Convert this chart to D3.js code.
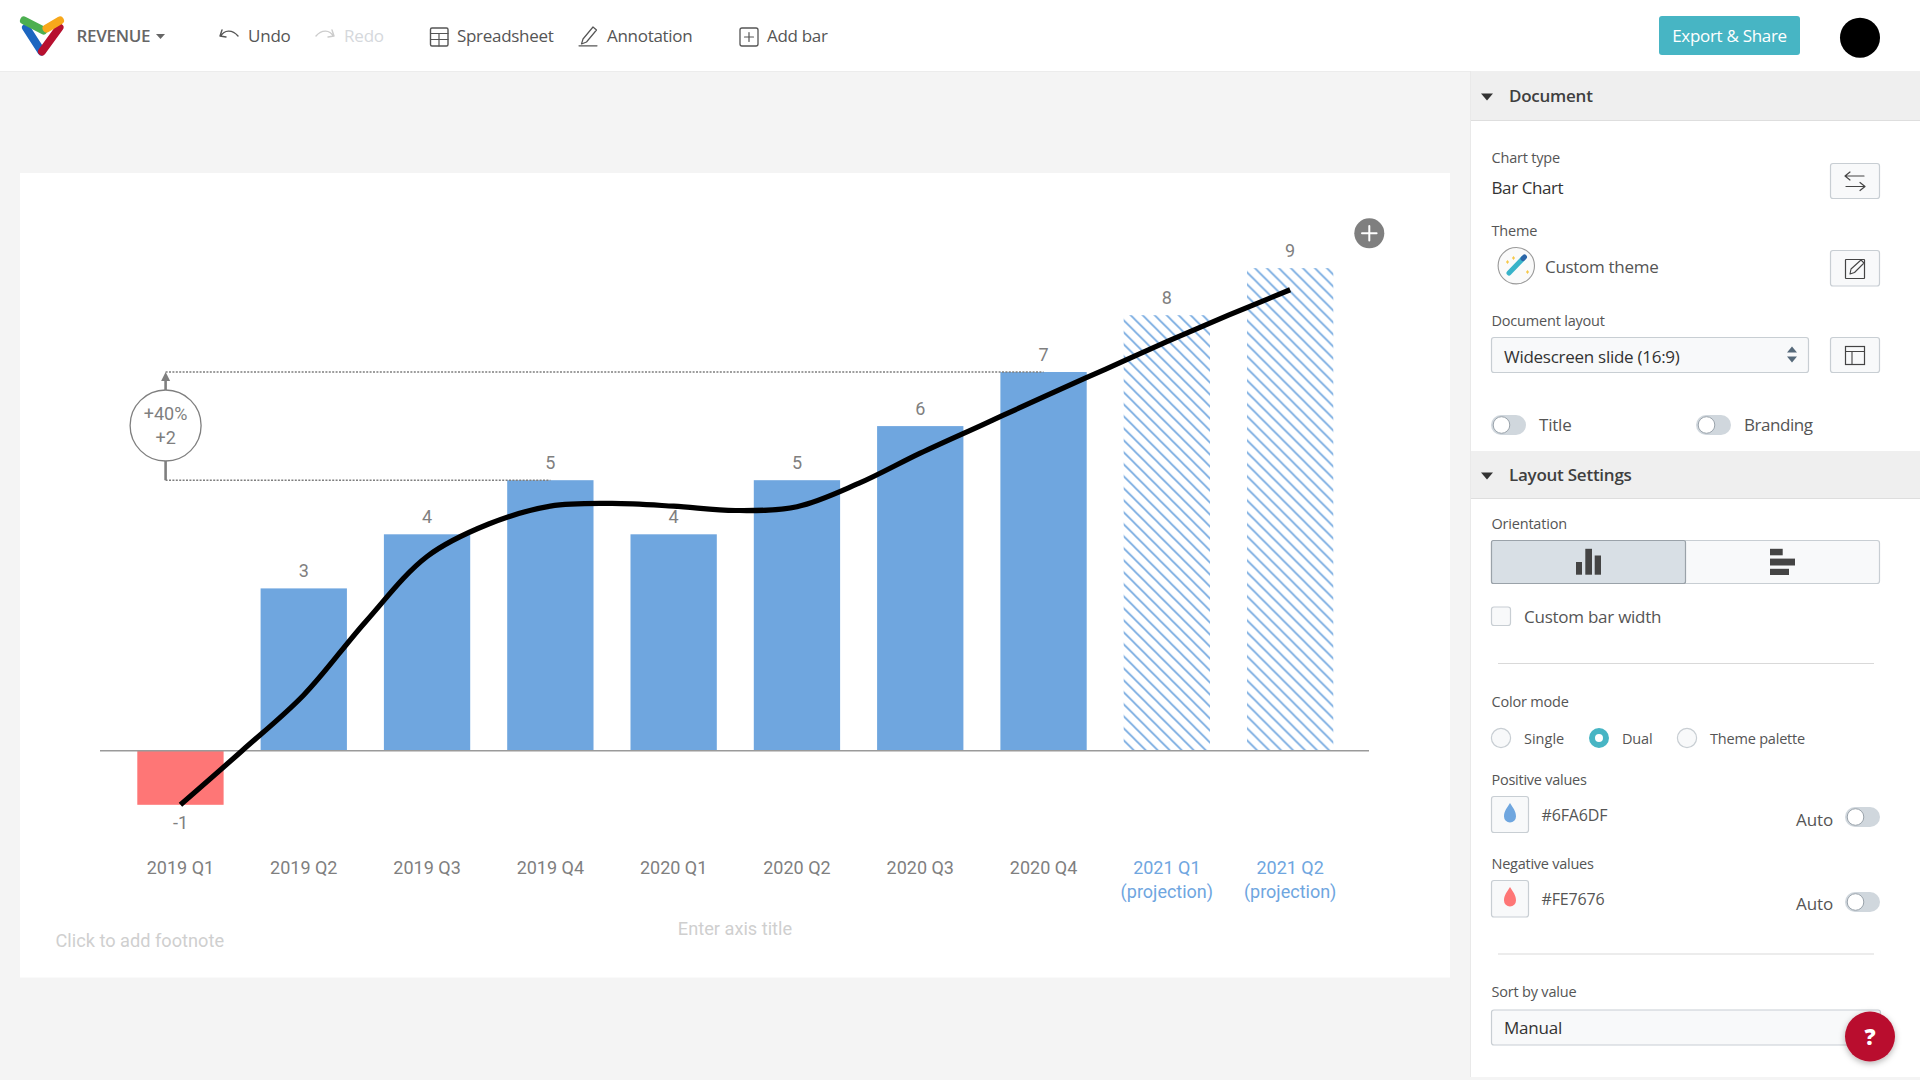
<!DOCTYPE html>
<html><head><meta charset="utf-8"><title>Revenue</title>
<script src="https://cdn.jsdelivr.net/npm/d3@7"></script>
<style>html,body{margin:0;padding:0;background:#f4f4f4;overflow:hidden}svg{display:block}</style>
</head><body><div id="root"></div>
<script>
// ---- chart data ----
const categories = ["2019 Q1","2019 Q2","2019 Q3","2019 Q4","2020 Q1","2020 Q2","2020 Q3","2020 Q4","2021 Q1","2021 Q2"];
const barValues  = [-1,3,4,5,4,5,6,7,8.05,8.92];
const barLabels  = ["-1","3","4","5","4","5","6","7","8","9"];
const projected  = [false,false,false,false,false,false,false,false,true,true];
// trend line at each bar centre and half-way between bars
const trendPositions = [0,.5,1,1.5,2,2.5,3,3.5,4,4.5,5,5.5,6,6.5,7,7.5,8,8.5,9];
const trendValues    = [-1,0,1.03,2.38,3.59,4.19,4.52,4.57,4.52,4.44,4.51,4.94,5.5,6.02,6.54,7.05,7.56,8.05,8.52];
const growthFrom = "2019 Q4", growthTo = "2020 Q4";
const growthFromValue = 5, growthToValue = 7;
const growthLabels = ["+40%","+2"];
const POS="#6FA6DF", NEG="#FE7676", GREY="#7f7f7f";
const UI='"Open Sans",sans-serif', CH='Roboto,sans-serif', FS=18;

const svg=d3.select("#root").append("svg").attr("width",1920).attr("height",1080).attr("viewBox","0 0 1920 1080");
const defs=svg.append("defs");
const shadow=defs.append("filter").attr("id","sh").attr("x","-30%").attr("y","-30%").attr("width","160%").attr("height","160%");
shadow.append("feDropShadow").attr("dx",0).attr("dy",2).attr("stdDeviation",3).attr("flood-color","#000").attr("flood-opacity",.3);

function rect(x,y,w,h,fill,opt={}){return svg.append("rect").attr("x",x).attr("y",y).attr("width",w).attr("height",h).attr("fill",fill).attr("rx",opt.r||0).attr("stroke",opt.s||"none").attr("stroke-width",opt.sw||1);}
function txt(x,y,s,size,color,opt={}){return svg.append("text").attr("x",x).attr("y",y).attr("dy",".35em").attr("font-family",opt.f||UI).attr("font-size",size).attr("font-weight",opt.w||400).attr("fill",color).attr("text-anchor",opt.a||"start").attr("letter-spacing",opt.ls||null).text(s);}
function path(d,stroke,sw,fill,parent){return (parent||svg).append("path").attr("d",d).attr("fill",fill||"none").attr("stroke",stroke||"none").attr("stroke-width",sw||1).attr("stroke-linecap","round").attr("stroke-linejoin","round");}
function circ(x,y,r,fill,stroke,sw){return svg.append("circle").attr("cx",x).attr("cy",y).attr("r",r).attr("fill",fill).attr("stroke",stroke||"none").attr("stroke-width",sw||1);}

// ---- page frame ----
rect(0,0,1920,1080,"#f4f4f4");
rect(0,0,1920,71.5,"#fff");
rect(0,71,1470,1,"#ececec");

// top bar
path("M26,27.5L41.5,51.5","#1c66c0",8);
path("M59.5,27.5L42,51.5","#b7102f",8);
path("M24,20.5L43.5,30.5","#4caf50",8);
path("M46.5,28.5L60,20.5","#f7a81b",8);
txt(76.5,36.5,"REVENUE",17,"#666",{w:600,ls:-.3});
path("M156,34h9l-4.5,5z",null,0,"#666");
const IC="#555";
path("M220,36l2,-6M220,36l6,1M221,36c3,-6 11,-7 17,0",IC,1.4);
txt(248,36.5,"Undo",17,"#555",{ls:-.2});
path("M334,36l-2,-6M334,36l-6,1M333,36c-3,-6 -11,-7 -17,0","#ccc",1.4);
txt(344,36.5,"Redo",17,"#d5d8dc",{ls:-.2});
rect(430.5,28,17.5,18,"none",{s:"#555",sw:1.4,r:1.5});
path("M430.5,33.5h17.5M430.5,39.5h17.5M439,33.5v12.5",IC,1.2);
txt(457,36.5,"Spreadsheet",17,"#555",{ls:-.3});
path("M583,39l-1.5,5 5,-2 10,-12 -3.5,-3zM579,45.8h18",IC,1.2);
txt(607,36.5,"Annotation",17,"#555",{ls:-.3});
rect(740,28,18,18,"none",{s:"#555",sw:1.3,r:2});
path("M749,32.5v9M744.5,37h9",IC,1.2);
txt(767,36.5,"Add bar",17,"#555",{ls:-.3});
rect(1659,16,141,39,"#47b5c4",{r:3});
txt(1729.5,36.5,"Export & Share",17,"#fff",{a:"middle",ls:-.3});
circ(1860,37.7,20,"#000");

// ---- chart card ----
rect(20,173,1430,804.5,"#fff");
const x=d3.scaleBand().domain(categories).range([137.3,1333.3]).paddingInner(.3).paddingOuter(0);
const y=d3.scaleLinear().domain([-1,9]).range([804.8,263.8]);
const cx=c=>x(c)+x.bandwidth()/2;
const chart=svg.append("g").attr("class","chart");

// hatch patterns, one anchored to each projected bar
const projCats=categories.filter((c,i)=>projected[i]);
defs.selectAll("pattern").data(projCats).join("pattern")
  .attr("id",(d,i)=>"hatch"+i).attr("patternUnits","userSpaceOnUse").attr("width",12).attr("height",12)
  .attr("patternTransform",d=>`translate(${x(d)+10.5},${y(0)})`)
  .append("path").attr("d","M-3,-3L15,15M-15,-3L3,15M9,-3L21,9").attr("stroke",POS).attr("stroke-width",1.6).attr("fill","none");

chart.selectAll("rect.bar").data(categories).join("rect").attr("class","bar")
  .attr("x",d=>x(d)).attr("width",x.bandwidth())
  .attr("y",(d,i)=>y(Math.max(0,barValues[i])))
  .attr("height",(d,i)=>Math.abs(y(barValues[i])-y(0)))
  .attr("fill",(d,i)=>projected[i]?`url(#hatch${projCats.indexOf(d)})`:(barValues[i]<0?NEG:POS));

// baseline
chart.append("line").attr("x1",100).attr("x2",1369).attr("y1",y(0)).attr("y2",y(0)).attr("stroke","#9a9a9a").attr("stroke-width",1.5);

// value labels
chart.selectAll("text.val").data(categories).join("text").attr("class","val")
  .attr("x",cx).attr("y",(d,i)=>barValues[i]<0?y(barValues[i])+18:y(barValues[i])-17.5).attr("dy",".35em")
  .attr("text-anchor","middle").attr("font-family",CH).attr("font-size",FS).attr("fill",GREY).text((d,i)=>barLabels[i]);

// category axis
const axis=chart.append("g").attr("transform","translate(0,867.6)").call(d3.axisBottom(x).tickSize(0));
axis.select(".domain").remove();
axis.selectAll("text").attr("y",0).attr("dy",".35em").attr("font-family",CH).attr("font-size",FS)
  .attr("fill",(d,i)=>projected[i]?POS:GREY);
axis.selectAll("g.tick").filter((d,i)=>projected[i]).append("text")
  .attr("y",24.2).attr("dy",".35em").attr("fill",POS).attr("font-family",CH).attr("font-size",FS).attr("text-anchor","middle").text("(projection)");

// trend line
const tx=d3.scaleLinear().domain([0,categories.length-1]).range([cx(categories[0]),cx(categories[categories.length-1])]);
const line=d3.line().x(d=>tx(d.p)).y(d=>y(d.v)).curve(d3.curveCatmullRom.alpha(.5));
chart.append("path").datum(trendPositions.map((p,i)=>({p,v:trendValues[i]}))).attr("d",line)
  .attr("fill","none").attr("stroke","#000").attr("stroke-width",5.2);

// growth annotation
const ax=165.6, yA=y(growthFromValue), yB=y(growthToValue), cyA=425.5;
const ann=chart.append("g");
[[yA,cx(growthFrom)],[yB,cx(growthTo)]].forEach(([yy,xe])=>ann.append("line").attr("x1",ax).attr("x2",xe).attr("y1",yy).attr("y2",yy).attr("stroke",GREY).attr("stroke-width",1.4).attr("stroke-dasharray","2 1.4"));
ann.append("line").attr("x1",ax).attr("x2",ax).attr("y1",yA).attr("y2",yB+8).attr("stroke",GREY).attr("stroke-width",2.6);
ann.append("path").attr("d",`M${ax-4.5},${yB+9}L${ax},${yB}L${ax+4.5},${yB+9}z`).attr("fill",GREY);
ann.append("circle").attr("cx",ax).attr("cy",cyA).attr("r",35.5).attr("fill","#fff").attr("stroke",GREY).attr("stroke-width",1.3);
growthLabels.forEach((s,i)=>ann.append("text").attr("x",ax).attr("y",cyA+(i?12.5:-11.5)).attr("dy",".35em").attr("text-anchor","middle").attr("font-family",CH).attr("font-size",FS).attr("fill",GREY).text(s));

// add button, placeholders
circ(1369.3,233.3,15,GREY);
path("M1369.3,226v14.6M1362,233.3h14.6","#fff",2);
txt(55.5,940.6,"Click to add footnote",18.2,"#cfcfcf",{f:CH});
txt(735,928.6,"Enter axis title",18.2,"#cfcfcf",{f:CH,a:"middle"});

// ---- side panel ----
rect(1470.5,71,449.5,1006,"#fff");
rect(1470,71,1,1006,"#e9e9e9");
function header(y0,y1,s){rect(1471,y0,449,y1-y0,"#efefef");rect(1471,y1-1,449,1,"#dedede");
  const m=(y0+y1)/2;path(`M1481,${m-2.5}h12l-6,7z`,null,0,"#333");txt(1509,m,s,17,"#3f3f3f",{w:600,ls:-.25});}
const LBL="#555", VAL="#333", BD="#c8ced3", BTN="#f8f9fa";
function btn(x0,y0,w,h){return rect(x0+.5,y0+.5,w-1,h-1,BTN,{s:BD,sw:1.2,r:2.5});}
function toggle(x0,y0){rect(x0,y0,35,20,"#d0d7dd",{r:10});circ(x0+10.5,y0+10,8.3,"#fff","#9aa3ab",1);}
function drop(cx0,cy0,c){path(`M${cx0},${cy0-11}C${cx0+3},${cy0-6} ${cx0+6},${cy0-3} ${cx0+6},${cy0+2.5}A6,6 0 0 1 ${cx0-6},${cy0+2.5}C${cx0-6},${cy0-3} ${cx0-3},${cy0-6} ${cx0},${cy0-11}z`,null,0,c);}

header(71,121,"Document");
txt(1491.5,158,"Chart type",14.5,LBL,{ls:-.2});
txt(1491.5,187.7,"Bar Chart",17,VAL,{ls:-.4});
btn(1830,163,50,36);
path("M1845,176h19M1845,176l5,-4M1845,176l5,4M1846,186.5h19M1865,186.5l-5,-4M1865,186.5l-5,4","#444",1.2);
txt(1491.5,230.7,"Theme",14.5,LBL,{ls:-.2});
circ(1516.3,265.7,18.2,"#fafafa","#999",1.1);
path("M1509,273L1523,258.5","#38b3c9",5);
path("M1523,258.5l1.5,-1.5","#2b65a8",5);
path("M1506,262l1.5,-2 1.5,2 -1.5,2z",null,0,"#f7c948");
path("M1526,272l1.5,-2 1.5,2 -1.5,2z",null,0,"#f7c948");
path("M1512,258l1.5,-2 1.5,2 -1.5,2z",null,0,"#f7c948");
txt(1545,267,"Custom theme",17,LBL,{ls:-.3});
btn(1830,250,50,36.5);
rect(1845.5,259.5,19,19,"none",{s:"#444",sw:1.2,r:0.5});
path("M1850,274l1,-5 10,-9 3,3 -9.5,9.5z","#444",1.1,"#f8f9fa");
txt(1491.5,320.7,"Document layout",14.5,LBL,{ls:-.2});
btn(1491,337,318,36);
txt(1504,356.8,"Widescreen slide (16:9)",17,VAL,{ls:-.27});
path("M1787,352.5h10l-5,-6z",null,0,"#56697a");
path("M1787,356.5h10l-5,6z",null,0,"#56697a");
btn(1830,337,50,36);
rect(1845.5,346.5,19,18,"none",{s:"#444",sw:1.2});
path("M1845.5,351.5h19M1852,351.5v13","#444",1.1);
toggle(1491,415);txt(1539,424.7,"Title",17,LBL,{ls:-.2});
toggle(1696,415);txt(1744,424.7,"Branding",17,LBL,{ls:-.45});

header(451,499,"Layout Settings");
txt(1491.5,523.7,"Orientation",14.5,LBL,{ls:-.2});
btn(1491,540,389,44);
rect(1491.5,540.5,194,43,"#d8dfe5",{s:"#9aa2a9",sw:1.2,r:2});
rect(1576,562,6,12.7,"#444");rect(1585.3,548.8,6.7,25.9,"#444");rect(1594.7,555.5,6.3,19.2,"#444");
rect(1770,548.8,12.7,6.5,"#444");rect(1770,558.6,25,6.9,"#444");rect(1770,568.8,19,6.2,"#444");
btn(1491,606.5,20,19.5);
txt(1524,617,"Custom bar width",17,LBL,{ls:-.25});
rect(1498,663,376,1,"#d9d9d9");
txt(1491.5,702,"Color mode",14.5,LBL,{ls:-.2});
circ(1501,738,9.6,BTN,BD,1.2);txt(1524,738.5,"Single",14.5,LBL);
circ(1599,738,7,"#fff","#47b5c4",6);txt(1622,738.5,"Dual",14.5,LBL,{ls:-.15});
circ(1687,738,9.6,BTN,BD,1.2);txt(1710,738.5,"Theme palette",14.5,LBL,{ls:-.2});
txt(1491.5,779.7,"Positive values",14.5,LBL,{ls:-.25});
btn(1491,796,38,37);drop(1510,814,POS);
txt(1541.5,815.6,"#6FA6DF",16,LBL,{ls:-.15});
txt(1796,820,"Auto",17,LBL,{ls:-.1});toggle(1845,807);
txt(1491.5,864,"Negative values",14.5,LBL,{ls:-.25});
btn(1491,880,38,37.5);drop(1510,898,NEG);
txt(1541.5,899.5,"#FE7676",16,LBL,{ls:-.15});
txt(1796,904,"Auto",17,LBL,{ls:-.1});toggle(1845,892);
rect(1498,953.5,376,1,"#d9d9d9");
txt(1491.5,992,"Sort by value",14.5,LBL,{ls:-.2});
btn(1491,1009.5,390,36);
txt(1504,1027.6,"Manual",17,VAL,{ls:-.2});
circ(1870,1036.5,25,"#b9102f").attr("filter","url(#sh)");
txt(1870,1037.5,"?",22,"#fff",{a:"middle",w:800});
</script></body></html>
